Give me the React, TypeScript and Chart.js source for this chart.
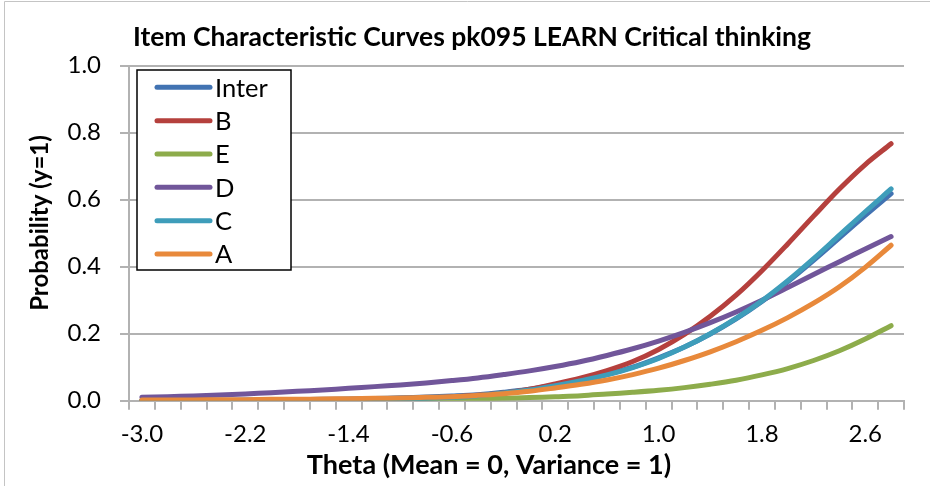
import React, { useEffect, useRef } from 'react';
import { Chart, registerables } from 'chart.js';

Chart.register(...registerables);

// ---------- data ----------
const thetaLabels = [
  '-3.0', '-2.8', '-2.6', '-2.4', '-2.2', '-2.0', '-1.8', '-1.6', '-1.4', '-1.2',
  '-1.0', '-0.8', '-0.6', '-0.4', '-0.2', '0.0', '0.2', '0.4', '0.6', '0.8',
  '1.0', '1.2', '1.4', '1.6', '1.8', '2.0', '2.2', '2.4', '2.6', '2.8',
];

const interValues = [
  0.0008, 0.001, 0.0012, 0.0015, 0.0019, 0.0024, 0.003, 0.004, 0.005, 0.0066,
  0.0085, 0.011, 0.014, 0.018, 0.025, 0.034, 0.047, 0.061, 0.078, 0.100,
  0.128, 0.160, 0.199, 0.244, 0.296, 0.355, 0.419, 0.486, 0.553, 0.618,
];
const bValues = [
  0.0002, 0.0002, 0.0003, 0.0004, 0.0006, 0.0008, 0.0011, 0.0015, 0.002, 0.003,
  0.005, 0.007, 0.011, 0.016, 0.023, 0.034, 0.050, 0.068, 0.090, 0.117,
  0.153, 0.198, 0.252, 0.315, 0.388, 0.468, 0.551, 0.632, 0.705, 0.767,
];
const eValues = [
  0.0003, 0.0004, 0.0005, 0.0006, 0.0008, 0.001, 0.0012, 0.0015, 0.0019, 0.0024,
  0.003, 0.0037, 0.0046, 0.0057, 0.0075, 0.0092, 0.012, 0.015, 0.020, 0.025,
  0.031, 0.039, 0.049, 0.061, 0.077, 0.096, 0.120, 0.149, 0.184, 0.224,
];
const dValues = [
  0.010, 0.012, 0.014, 0.017, 0.020, 0.024, 0.028, 0.032, 0.037, 0.042,
  0.047, 0.053, 0.060, 0.068, 0.078, 0.089, 0.102, 0.117, 0.135, 0.155,
  0.178, 0.204, 0.233, 0.265, 0.300, 0.338, 0.377, 0.415, 0.453, 0.490,
];
const cValues = [
  0.0003, 0.0004, 0.0005, 0.0007, 0.0009, 0.0012, 0.0016, 0.0022, 0.003, 0.004,
  0.0055, 0.0075, 0.010, 0.015, 0.023, 0.032, 0.045, 0.060, 0.077, 0.099,
  0.126, 0.160, 0.200, 0.246, 0.298, 0.358, 0.424, 0.494, 0.564, 0.632,
];
const aValues = [
  0.002, 0.002, 0.002, 0.003, 0.003, 0.004, 0.004, 0.005, 0.006, 0.007,
  0.008, 0.010, 0.012, 0.016, 0.021, 0.028, 0.038, 0.049, 0.062, 0.078,
  0.097, 0.120, 0.146, 0.176, 0.210, 0.248, 0.291, 0.340, 0.398, 0.464,
];

const seriesNames = ['Inter', 'B', 'E', 'D', 'C', 'A'];
const seriesValues = [interValues, bValues, eValues, dValues, cValues, aValues];
const seriesColors = ['#4273B2', '#B5403D', '#8DAC4B', '#71569A', '#3E9DBA', '#E8893B'];

const yMin = 0;
const yMax = 1;
const yStep = 0.2;
const xLabelEvery = 4;

const chartTitle = 'Item Characteristic Curves pk095 LEARN Critical thinking';
const xTitle = 'Theta (Mean = 0, Variance = 1)';
const yTitle = 'Probability (y=1)';

// ---------- styling ----------
const FONT = 'Lato, "Open Sans", "Liberation Sans", sans-serif';
const GRID = '#b2b2b2';

const decorPlugin = {
  id: 'decor',
  beforeDraw(chart: any) {
    const { ctx, width, height } = chart;
    ctx.save();
    ctx.fillStyle = '#ffffff';
    ctx.fillRect(0, 0, width, height);
    ctx.strokeStyle = '#c4c4c4';
    ctx.lineWidth = 1;
    ctx.beginPath();
    ctx.moveTo(4.5, height);
    ctx.lineTo(4.5, 1.5);
    ctx.lineTo(width, 1.5);
    ctx.stroke();
    ctx.restore();
  },
  afterDraw(chart: any) {
    const { ctx } = chart;
    ctx.save();
    ctx.fillStyle = '#000';
    ctx.textAlign = 'center';
    ctx.textBaseline = 'middle';
    // chart title
    ctx.font = `bold 26.5px ${FONT}`;
    ctx.fillText(chartTitle, 472, 37);
    // axis titles
    ctx.font = `bold 27px ${FONT}`;
    ctx.fillText(xTitle, 489, 465);
    ctx.save();
    ctx.font = `bold 24px ${FONT}`;
    ctx.translate(40, 223);
    ctx.rotate(-Math.PI / 2);
    ctx.fillText(yTitle, 0, 0);
    ctx.restore();

    // legend
    const bx = 137, by = 70, bw = 154, bh = 200;
    ctx.fillStyle = '#ffffff';
    ctx.fillRect(bx, by, bw, bh);
    ctx.strokeStyle = '#000';
    ctx.lineWidth = 1.5;
    ctx.strokeRect(bx, by, bw, bh);
    const ds = chart.data.datasets;
    ctx.font = `25.5px ${FONT}`;
    ctx.textAlign = 'left';
    ctx.textBaseline = 'middle';
    for (let i = 0; i < ds.length; i++) {
      const y = 87.3 + i * 33.35;
      ctx.strokeStyle = ds[i].borderColor;
      ctx.lineWidth = 5;
      ctx.lineCap = 'round';
      ctx.beginPath();
      ctx.moveTo(157, y);
      ctx.lineTo(210, y);
      ctx.stroke();
      ctx.fillStyle = '#000';
      ctx.fillText(ds[i].label, 215, y + 1);
    }
    ctx.restore();
  },
};

export default function App() {
  const ref = useRef<HTMLCanvasElement | null>(null);

  useEffect(() => {
    if (!ref.current) return;
    const chart = new Chart(ref.current, {
      type: 'line',
      data: {
        labels: thetaLabels,
        datasets: seriesNames.map((name, i) => ({
          label: name,
          data: seriesValues[i],
          borderColor: seriesColors[i],
          backgroundColor: seriesColors[i],
          borderWidth: 5,
          pointRadius: 0,
          pointHoverRadius: 0,
          tension: 0.35,
          borderCapStyle: 'round' as const,
          borderJoinStyle: 'round' as const,
          fill: false,
          order: seriesNames.length - i,
        })),
      },
      options: {
        responsive: false,
        animation: false,
        events: [],
        layout: { padding: { left: 0, right: 26, top: 65.7, bottom: 0 } },
        plugins: {
          legend: { display: false },
          tooltip: { enabled: false },
          title: { display: false },
        },
        scales: {
          x: {
            type: 'category',
            offset: true,
            grid: {
              offset: true,
              drawOnChartArea: false,
              drawTicks: true,
              tickLength: 9,
              color: GRID,
              lineWidth: 2,
            },
            border: { display: true, color: GRID, width: 2 },
            ticks: {
              autoSkip: false,
              maxRotation: 0,
              minRotation: 0,
              padding: 10,
              color: '#000',
              font: { family: FONT, size: 24 },
              callback: (_v: any, idx: number) => (idx % xLabelEvery === 0 ? thetaLabels[idx] : ''),
            },
            afterFit: (scale: any) => {
              scale.height = 85.3;
            },
          },
          y: {
            type: 'linear',
            min: yMin,
            max: yMax,
            grid: {
              color: GRID,
              lineWidth: 2,
              drawTicks: true,
              tickLength: 9,
            },
            border: { display: true, color: GRID, width: 2 },
            ticks: {
              stepSize: yStep,
              padding: 19,
              color: '#000',
              font: { family: FONT, size: 24 },
              callback: (v: any) => Number(v).toFixed(1),
            },
            afterFit: (scale: any) => {
              scale.width = 129;
            },
          },
        },
      },
      plugins: [decorPlugin],
    });
    return () => chart.destroy();
  }, []);

  return (
    <div style={{ position: 'fixed', left: 0, top: 0, width: 930, height: 486, background: '#fff' }}>
      <canvas ref={ref} width={930} height={486} style={{ display: 'block' }} />
    </div>
  );
}
